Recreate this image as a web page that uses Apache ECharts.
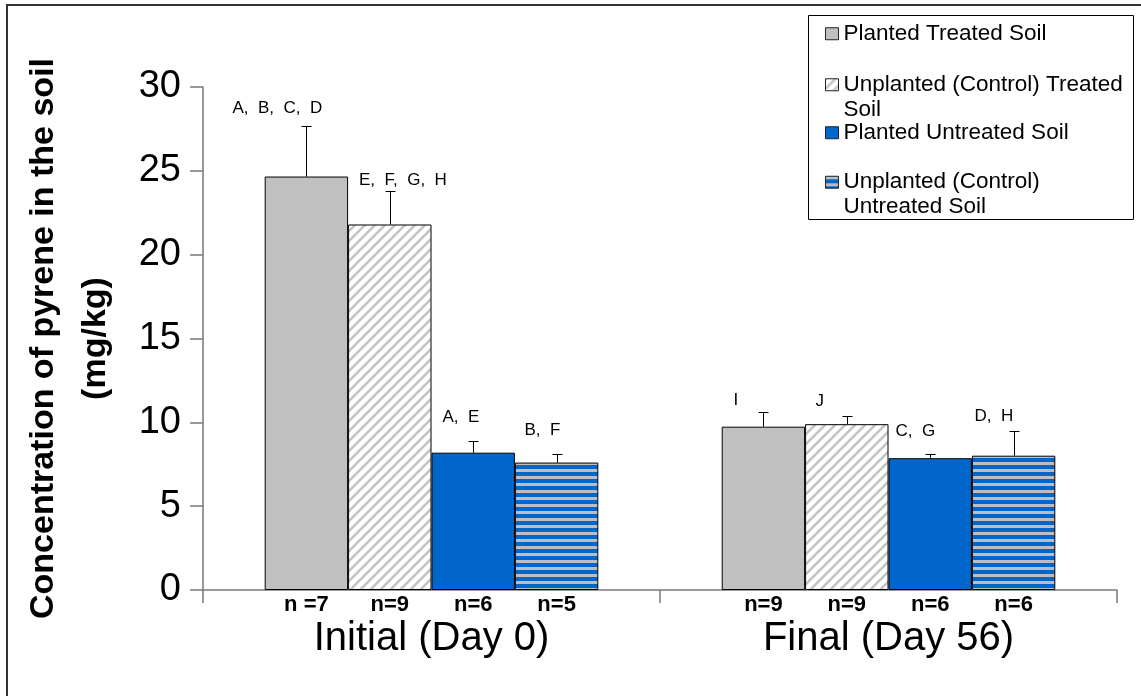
<!DOCTYPE html>
<html>
<head>
<meta charset="utf-8">
<script src="https://cdn.jsdelivr.net/npm/echarts@6/dist/echarts.min.js"></script>
<style>
html,body{margin:0;padding:0;background:#fff;}
#chart{width:1141px;height:696px;}
</style>
</head>
<body>
<div id="chart"></div>
<script>
// ---- data ----
const categories = ['Initial (Day 0)', 'Final (Day 56)'];
const seriesNames = ['Planted Treated Soil', 'Unplanted (Control) Treated Soil', 'Planted Untreated Soil', 'Unplanted (Control) Untreated Soil'];
const plantedTreated = [24.66, 9.74];
const unplantedTreated = [21.8, 9.89];
const plantedUntreated = [8.19, 7.86];
const unplantedUntreated = [7.6, 8.01];
const errPlantedTreated = [3.04, 0.9];
const errUnplantedTreated = [2.0, 0.49];
const errPlantedUntreated = [0.7, 0.25];
const errUnplantedUntreated = [0.51, 1.49];
const nPlantedTreated = ['n =7', 'n=9'];
const nUnplantedTreated = ['n=9', 'n=9'];
const nPlantedUntreated = ['n=6', 'n=6'];
const nUnplantedUntreated = ['n=5', 'n=6'];
const lettersPlantedTreated = ['A,  B,  C,  D', 'I'];
const lettersUnplantedTreated = ['E,  F,  G,  H', 'J'];
const lettersPlantedUntreated = ['A,  E', 'C,  G'];
const lettersUnplantedUntreated = ['B,  F', 'D,  H'];
const yTicks = {min: 0, max: 30, interval: 5};

// ---- styles (label offsets in px, not data) ----
const labelDx = [[-74, -30], [-31.5, -32], [-31, -35], [-33, -40]];
const labelDy = [[17, 11], [11, 14.3], [24, 22.3], [23.3, 14.7]];
const FONT = '"Liberation Sans", Arial, sans-serif';
const CAT_GAP = 0.27;

const values = [plantedTreated, unplantedTreated, plantedUntreated, unplantedUntreated];
const errs = [errPlantedTreated, errUnplantedTreated, errPlantedUntreated, errUnplantedUntreated];
const ns = [nPlantedTreated, nUnplantedTreated, nPlantedUntreated, nUnplantedUntreated];
const letters = [lettersPlantedTreated, lettersUnplantedTreated, lettersPlantedUntreated, lettersUnplantedUntreated];

function diagPattern() {
  const c = document.createElement('canvas');
  c.width = 10; c.height = 10;
  const g = c.getContext('2d');
  g.fillStyle = '#ffffff'; g.fillRect(0, 0, 10, 10);
  g.strokeStyle = '#c4c4c4'; g.lineWidth = 2.6;
  [[-2, 2, 2, -2], [-1, 11, 11, -1], [8, 12, 12, 8]].forEach(l => {
    g.beginPath(); g.moveTo(l[0], l[1]); g.lineTo(l[2], l[3]); g.stroke();
  });
  return {image: c, repeat: 'repeat'};
}
function horizPattern() {
  const c = document.createElement('canvas');
  c.width = 4; c.height = 7;
  const g = c.getContext('2d');
  g.fillStyle = '#0066cc'; g.fillRect(0, 0, 4, 7);
  g.fillStyle = '#bcbcc4'; g.fillRect(0, 0, 4, 3);
  return {image: c, repeat: 'repeat'};
}
const fills = ['#c0c0c0', diagPattern(), '#0066cc', horizPattern()];

const chart = echarts.init(document.getElementById('chart'), null, {renderer: 'canvas'});

const barSeries = seriesNames.map((name, s) => ({
  name: name,
  type: 'bar',
  data: values[s],
  barGap: '0%',
  barCategoryGap: (CAT_GAP * 100) + '%',
  itemStyle: {color: fills[s], borderColor: '#000', borderWidth: 1},
  label: {
    show: true,
    position: ['50%', '100%'],
    offset: [0, 15],
    align: 'center',
    verticalAlign: 'middle',
    formatter: p => ns[s][p.dataIndex],
    fontFamily: FONT, fontSize: 22, fontWeight: 'bold', color: '#000'
  },
  emphasis: {disabled: true},
  z: 2
}));

const errData = [];
values.forEach((arr, s) => arr.forEach((v, c) => errData.push([c, v, v + errs[s][c], s])));

const errSeries = {
  type: 'custom',
  name: 'errors',
  data: errData,
  encode: {x: 0, y: [1, 2]},
  z: 5,
  silent: true,
  renderItem: function (params, api) {
    const c = api.value(0), v = api.value(1), hi = api.value(2), s = api.value(3);
    const band = api.size([1, 0])[0];
    const bw = band * (1 - CAT_GAP) / 4;
    const p0 = api.coord([c, v]);
    const p1 = api.coord([c, hi]);
    const x = Math.round(p0[0] + (s - 1.5) * bw) + 0.5;
    const yTop = Math.round(p1[1]) + 0.5;
    return {
      type: 'group',
      children: [
        {type: 'line', shape: {x1: x, y1: p0[1], x2: x, y2: yTop}, style: {stroke: '#000', lineWidth: 1}},
        {type: 'line', shape: {x1: x - 5, y1: yTop, x2: x + 5, y2: yTop}, style: {stroke: '#000', lineWidth: 1}},
        {type: 'text', style: {
          text: letters[s][c],
          x: x + labelDx[s][c], y: p1[1] - labelDy[s][c],
          align: 'left', verticalAlign: 'middle',
          fontFamily: FONT, fontSize: 17, fill: '#000'
        }}
      ]
    };
  }
};

function legendFor(i, top) {
  const parts = {
    'Unplanted (Control) Treated Soil': ['Unplanted (Control) Treated', 'Soil'],
    'Unplanted (Control) Untreated Soil': ['Unplanted (Control)', 'Untreated Soil']
  };
  return {
    data: [seriesNames[i]],
    orient: 'vertical',
    left: 825,
    top: top,
    padding: 0,
    itemWidth: 13,
    itemHeight: 12,
    icon: 'rect',
    selectedMode: false,
    itemStyle: {borderColor: '#222', borderWidth: 1},
    formatter: name => {
      const p = parts[name] || [name, ' '];
      return ' \n' + p[0] + '\n' + p[1];
    },
    textStyle: {fontFamily: FONT, fontSize: 22.5, lineHeight: 25, color: '#000'}
  };
}

const option = {
  animation: false,
  backgroundColor: '#fff',
  grid: {left: 203, right: 24, top: 87, bottom: 106, containLabel: false},
  legend: [legendFor(0, -3.75), legendFor(1, 47.25), legendFor(2, 95.25), legendFor(3, 144.75)],
  xAxis: {
    type: 'category',
    data: categories,
    axisLine: {lineStyle: {color: '#7a7a7a', width: 1.5}},
    axisTick: {show: true, length: 13, lineStyle: {color: '#7a7a7a', width: 1.5}},
    axisLabel: {fontFamily: FONT, fontSize: 40, color: '#000', margin: 29}
  },
  yAxis: {
    type: 'value',
    min: yTicks.min, max: yTicks.max, interval: yTicks.interval,
    name: 'Concentration of pyrene in the soil\n(mg/kg)',
    nameLocation: 'middle',
    nameRotate: 90,
    nameGap: 81,
    nameTextStyle: {fontFamily: FONT, fontSize: 34, fontWeight: 'bold', color: '#000', lineHeight: 52},
    axisLine: {show: true, lineStyle: {color: '#7a7a7a', width: 1.5}},
    axisTick: {show: true, length: 13, lineStyle: {color: '#7a7a7a', width: 1.5}},
    axisLabel: {fontFamily: FONT, fontSize: 38, color: '#000', margin: 22},
    splitLine: {show: false}
  },
  graphic: [
    {type: 'rect', shape: {x: 7, y: 5, width: 1200, height: 800}, style: {fill: 'none', stroke: '#333', lineWidth: 2}, silent: true, z: 0},
    {type: 'rect', shape: {x: 808.5, y: 15.5, width: 325, height: 204}, style: {fill: 'none', stroke: '#000', lineWidth: 1}, silent: true, z: 0}
  ],
  series: barSeries.concat([errSeries])
};
chart.setOption(option);
</script>
</body>
</html>
